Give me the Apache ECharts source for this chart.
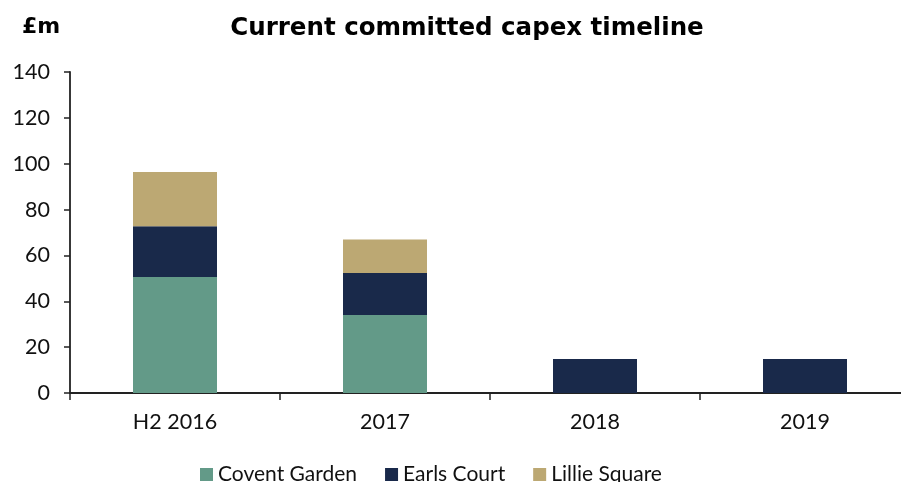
<!DOCTYPE html>
<html>
<head>
<meta charset="utf-8">
<script src="https://cdn.jsdelivr.net/npm/echarts@6/dist/echarts.min.js"></script>
<style>
  html, body { margin: 0; padding: 0; background: #fff; }
  #chart { width: 901px; height: 482px; }
</style>
</head>
<body>
<div id="chart"></div>
<script>
// Committed capex by project, £m
const categories = ['H2 2016', '2017', '2018', '2019'];
const coventGarden = [50.6, 34.0, 0, 0];
const earlsCourt = [22.1, 18.3, 14.8, 14.8];
const lillieSquare = [23.7, 14.7, 0, 0];
const yTicks = { min: 0, max: 140, interval: 20 };

const FONT = 'Lato';
const TITLE_FONT = 'DejaVu Sans';
const chart = echarts.init(document.getElementById('chart'), null, { renderer: 'canvas' });

function stack(name, data, color) {
  return {
    name: name,
    type: 'bar',
    stack: 'capex',
    data: data.map(v => (v === 0 ? null : v)),
    barWidth: 84,
    itemStyle: { color: color },
    emphasis: { disabled: true }
  };
}

chart.setOption({
  animation: false,
  textStyle: { fontFamily: FONT },
  title: [
    {
      text: 'Current committed capex timeline',
      left: 462,
      textAlign: 'center',
      top: 11,
      textStyle: { fontFamily: TITLE_FONT, fontWeight: 'bold', fontSize: 24.5, color: '#000' }
    },
    {
      text: '£m',
      left: 17,
      top: 11,
      textStyle: { fontFamily: TITLE_FONT, fontWeight: 'bold', fontSize: 22, color: '#000' }
    }
  ],
  legend: {
    bottom: -8,
    left: 195,
    itemWidth: 13,
    itemHeight: 13,
    itemGap: 28,
    icon: 'rect',
    textStyle: { fontFamily: FONT, fontSize: 21, color: '#111', padding: [0, 0, 0, 0] },
    data: ['Covent Garden', 'Earls Court', 'Lillie Square']
  },
  // plot area runs slightly past the right edge of the canvas
  grid: { left: 70, width: 840, top: 72, bottom: 89, outerBoundsMode: 'none' },
  xAxis: {
    type: 'category',
    data: categories,
    axisLine: { lineStyle: { color: '#222', width: 1.8 } },
    axisTick: { show: true, length: 7, alignWithLabel: false, lineStyle: { color: '#222', width: 1.5 } },
    axisLabel: { fontFamily: FONT, fontSize: 21.5, color: '#111', margin: 18 },
    splitLine: { show: false }
  },
  yAxis: {
    type: 'value',
    min: yTicks.min,
    max: yTicks.max,
    interval: yTicks.interval,
    axisLine: { show: true, lineStyle: { color: '#222', width: 1.8 } },
    axisTick: { show: true, length: 6, lineStyle: { color: '#222', width: 1.5 } },
    axisLabel: { fontFamily: FONT, fontSize: 21.5, color: '#111', margin: 20 },
    splitLine: { show: false }
  },
  series: [
    stack('Covent Garden', coventGarden, '#639a88'),
    stack('Earls Court', earlsCourt, '#19294a'),
    stack('Lillie Square', lillieSquare, '#bca873')
  ]
});
</script>
</body>
</html>
